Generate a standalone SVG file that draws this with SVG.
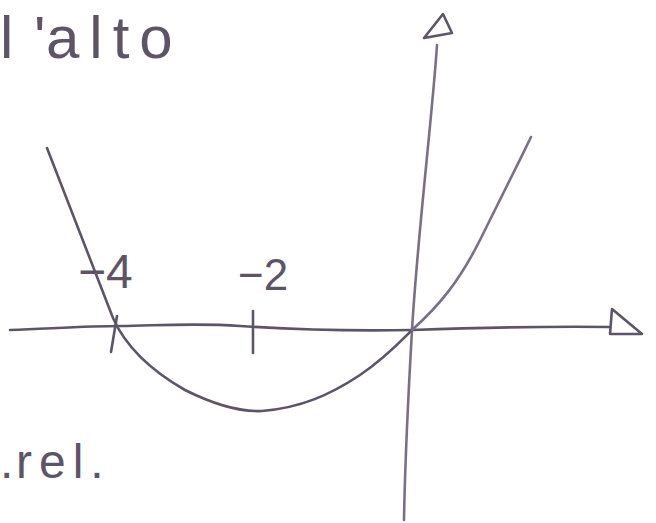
<svg xmlns="http://www.w3.org/2000/svg" width="656" height="523" viewBox="0 0 656 523">
<style>
.ink{fill:none;stroke:#5e5468;stroke-width:2.6;stroke-linecap:round;stroke-linejoin:round}
.light{stroke:#7a6f86}
.txt{fill:#5e5468;font-family:"Liberation Sans","DejaVu Sans",sans-serif}
</style>
<rect width="656" height="523" fill="#ffffff"/>
<g id="title">
<text class="txt" y="58" font-size="60"><tspan x="0">l</tspan><tspan x="34">'</tspan><tspan x="46" letter-spacing="10">alto</tspan></text>
</g>
<g id="footnote">
<text class="txt" y="478" font-size="48"><tspan x="0">.</tspan><tspan x="16" letter-spacing="7">rel.</tspan></text>
</g>
<g id="axes">
<path id="x-axis" class="ink" d="M10,330 C60,328 90,326 120,326 C170,325 200,323 240,326 C300,330 360,331 412,330 C470,328 540,326 610,327"/>
<path id="x-arrow" class="ink" d="M612,309 L642,334 L610,334 Z"/>
<path id="y-axis" class="ink light" d="M437,45 C432,120 418,230 412,330 C408,400 405,460 404,520"/>
<path id="y-arrow" class="ink" d="M443,14 L424,38 L452,33 Z"/>
</g>
<g id="ticks">
<path class="ink" d="M117,316 L111,352"/>
<path class="ink" d="M253,311 L253,353"/>
<text class="txt" x="78" y="288" font-size="48">−4</text>
<text class="txt" x="238" y="290" font-size="44">−2</text>
</g>
<g id="parabola">
<path class="ink" d="M47,148 L113,318 C125,345 150,370 185,390 C215,405 240,412 262,411 C300,408 330,395 360,375 C385,358 400,342 412,330"/>
<path class="ink light" d="M412,330 C440,305 460,280 480,240 C500,200 515,170 531,137"/>
</g>
</svg>
